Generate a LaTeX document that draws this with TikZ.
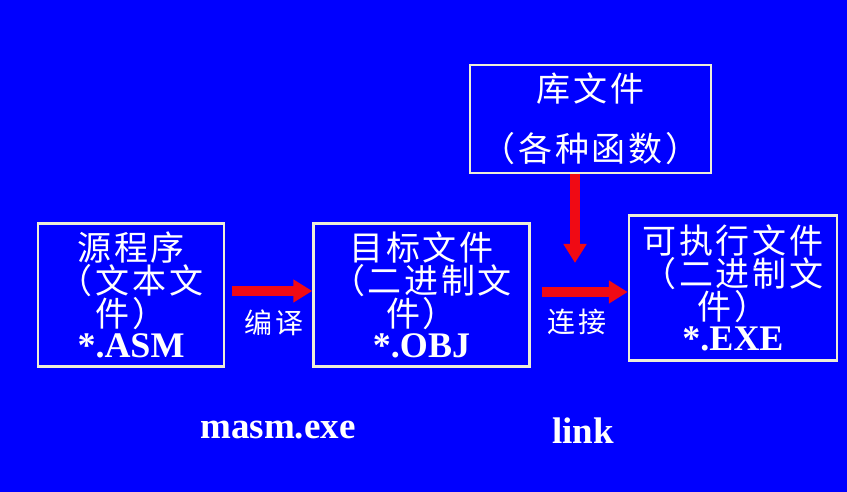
\documentclass[tikz,border=0pt]{standalone}
\usepackage{fontspec}
\setmainfont{Liberation Serif}
\newfontfamily\cjk[LetterSpace=8]{Noto Sans CJK SC}
\usetikzlibrary{arrows.meta,positioning}
\definecolor{slideblue}{RGB}{0,0,255}
\definecolor{slidered}{RGB}{240,10,20}
\definecolor{slideframe}{RGB}{238,238,215}
\newcommand{\fileext}[1]{{\rmfamily\bfseries\fontsize{36}{31}\selectfont #1}}

\begin{document}
\begin{tikzpicture}[
    x=1pt, y=-1pt,
    >={Triangle[length=19pt,width=22pt]},
    file/.style={rectangle, draw=slideframe, line width=2.5pt, text=white,
                 minimum width=#1, minimum height=143pt, inner sep=0pt,
                 font=\cjk\fontsize{34}{31}\selectfont, align=center},
    arrow/.style={->, line width=10pt, draw=slidered},
    action/.style={text=white, font=\cjk\fontsize{28}{28}\selectfont},
    tool/.style={text=white, anchor=base, font=\rmfamily\bfseries\fontsize{37}{40}\selectfont}
]
\useasboundingbox (0,0) rectangle (847,492);
\fill[slideblue] (0,0) rectangle (847,492);

% Files
\node[file=186pt] (src) at (131,295) {源程序\\（文本文\\件）\\\fileext{*.ASM}};
\node[file=216pt, right=87pt of src] (obj) {目标文件\\（二进制文\\件）\\\fileext{*.OBJ}};
\node[file=208pt, minimum height=145pt, right=97pt of obj, yshift=7pt] (exe) {可执行文件\\（二进制文\\件）\\\fileext{*.EXE}};
\node[file=241pt, minimum height=108pt, font=\cjk\fontsize{34}{60}\selectfont] (lib) at (590.5,119) {\raisebox{-3pt}{库文件}\\\raisebox{-3pt}{（各种函数）}};

% Flow
\coordinate (libtip) at (575,263);
\draw[arrow] ([xshift=7pt,yshift=4pt]src.east) -- ([yshift=4pt]obj.west);
\draw[arrow] ([xshift=11pt,yshift=3pt]obj.east) -- ([yshift=-4pt]exe.west);
\draw[arrow] ([xshift=-15.5pt]lib.south) -- (libtip);

% Labels
\node[action] (compile) at (274,323) {编译};
\node[action] (linking) at (577,322) {连接};
\node[tool] (masm) at (278,438) {masm.exe};
\node[tool] (linker) at (583,443) {link};
\end{tikzpicture}
\end{document}
